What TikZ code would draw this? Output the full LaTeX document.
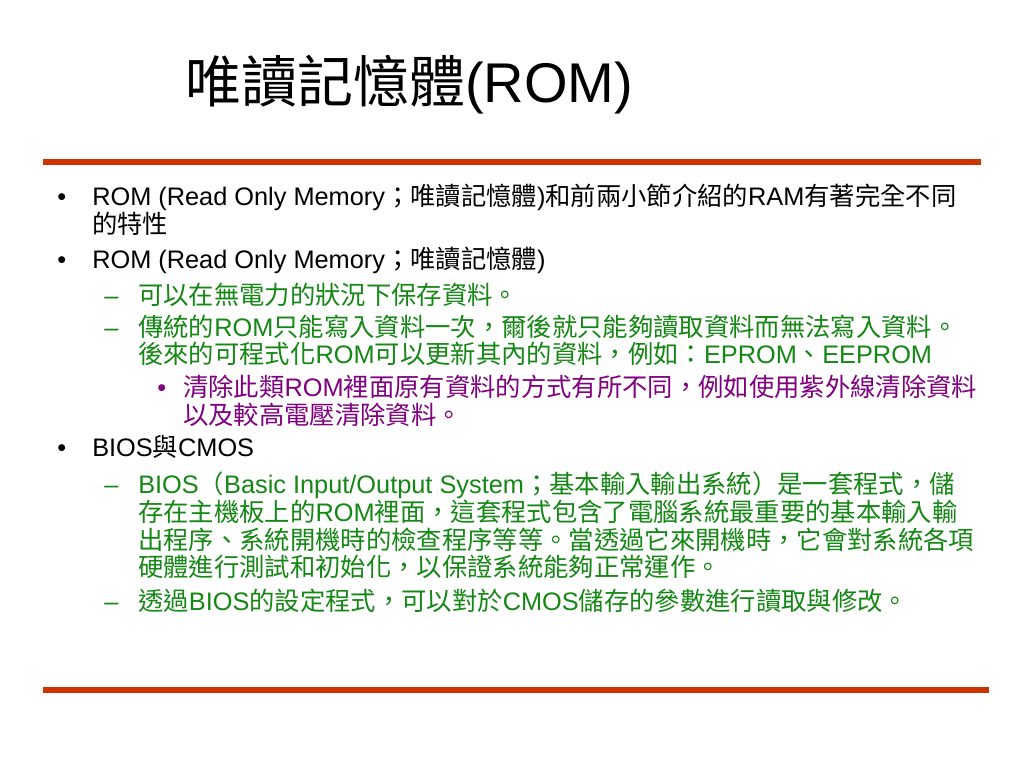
\documentclass[tikz,border=0pt]{standalone}
\usepackage{fontspec}
\setmainfont{Liberation Sans}
\newfontfamily\cjk{Noto Sans CJK TC}
\newcommand\C[1]{{\cjk #1}}
\definecolor{rulered}{RGB}{204,51,0}
\definecolor{txtgreen}{RGB}{20,135,20}
\definecolor{txtpurple}{RGB}{128,0,128}
\tikzset{
  rulebar/.style={draw=rulered, line width=4.5pt},
  body/.style={anchor=base west, inner sep=0pt, font=\fontsize{19}{23}\selectfont},
  lvlone/.style={body, text=black},
  lvltwo/.style={body, text=txtgreen},
  lvlthree/.style={body, text=txtpurple},
  titletext/.style={anchor=base west, inner sep=0pt, font=\fontsize{42}{50}\selectfont}
}
\begin{document}
\begin{tikzpicture}[x=0.75pt,y=-0.75pt]
\useasboundingbox (0,0) rectangle (1024,768);
\fill[white] (0,0) rectangle (1024,768);

\node[titletext] (title) at (185,102) {\C{唯讀記憶體}(ROM)};

\draw[rulebar] (43,162) -- (981,162);
\draw[rulebar] (43,690) -- (989,690);

% item 1
\node[lvlone] (b1) at (57,205) {•};
\node[lvlone] (t1a) at (92,205) {ROM (Read Only Memory\C{；唯讀記憶體})\C{和前兩小節介紹的}RAM\C{有著完全不同}};
\node[lvlone] (t1b) at (92,233) {\C{的特性}};
% item 2
\node[lvlone] (b2) at (57,268) {•};
\node[lvlone] (t2) at (92,268) {ROM (Read Only Memory\C{；唯讀記憶體})};
\node[lvltwo] (d21) at (104,304) {–};
\node[lvltwo] (t21) at (138,304) {\C{可以在無電力的狀況下保存資料。}};
\node[lvltwo] (d22) at (104,336) {–};
\node[lvltwo] (t22a) at (138,336) {\C{傳統的}ROM\C{只能寫入資料一次，爾後就只能夠讀取資料而無法寫入資料。}};
\node[lvltwo] (t22b) at (138,363) {\C{後來的可程式化}ROM\C{可以更新其內的資料，例如：}EPROM\C{、}EEPROM};
\node[lvlthree] (b221) at (157,396) {•};
\node[lvlthree] (t221a) at (183,396) {\C{清除此類}ROM\C{裡面原有資料的方式有所不同，例如使用紫外線清除資料}};
\node[lvlthree] (t221b) at (183,424) {\C{以及較高電壓清除資料。}};
% item 3
\node[lvlone] (b3) at (57,456) {•};
\node[lvlone] (t3) at (92,456) {BIOS\C{與}CMOS};
\node[lvltwo] (d31) at (104,493) {–};
\node[lvltwo] (t31a) at (138,493) {BIOS\C{（}Basic Input/Output System\C{；基本輸入輸出系統）是一套程式，儲}};
\node[lvltwo] (t31b) at (138,521) {\C{存在主機板上的}ROM\C{裡面，這套程式包含了電腦系統最重要的基本輸入輸}};
\node[lvltwo] (t31c) at (138,549) {\C{出程序、系統開機時的檢查程序等等。當透過它來開機時，它會對系統各項}};
\node[lvltwo] (t31d) at (138,576) {\C{硬體進行測試和初始化，以保證系統能夠正常運作。}};
\node[lvltwo] (d32) at (104,610) {–};
\node[lvltwo] (t32) at (138,610) {\C{透過}BIOS\C{的設定程式，可以對於}CMOS\C{儲存的參數進行讀取與修改。}};
\end{tikzpicture}
\end{document}
